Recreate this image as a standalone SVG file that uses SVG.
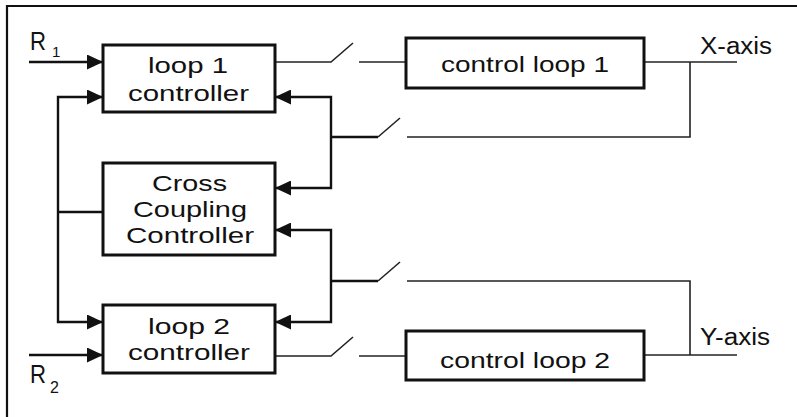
<svg xmlns="http://www.w3.org/2000/svg" width="797" height="417" viewBox="0 0 797 417">
<defs>
<marker id="ah" markerUnits="userSpaceOnUse" markerWidth="17" markerHeight="15" refX="16" refY="7.5" orient="auto">
<path d="M0,0 L16,7.5 L0,15 Z" fill="#111"/>
</marker>
<style>
.box{fill:#fff;stroke:#111;stroke-width:3}
.t{font-family:"Liberation Sans",Arial,sans-serif;font-size:22px;fill:#111}
.s{font-family:"Liberation Sans",Arial,sans-serif;fill:#111}
.c{fill:none;stroke:#111;stroke-width:2.4}
.cf{fill:none;stroke:#111;stroke-width:2.4;marker-end:url(#ah)}
.th{fill:none;stroke:#222;stroke-width:1.6}
.frame{fill:none;stroke:#111;stroke-width:2.2}
</style>
</defs>
<rect width="797" height="417" fill="#fff"/>
<path class="frame" d="M7,417 V6 H797"/>

<g id="connectors">
<path class="cf" d="M29,62 H103"/>
<path class="cf" d="M29,355 H103"/>
<path class="c" d="M103,212 H58"/>
<path class="cf" d="M58,212 V97 H103"/>
<path class="cf" d="M58,212 V322 H103"/>
<path class="c" d="M378,137 H331"/>
<path class="cf" d="M331,137 V97 H275"/>
<path class="cf" d="M331,137 V188 H275"/>
<path class="c" d="M378,281 H331"/>
<path class="cf" d="M331,281 V230 H275"/>
<path class="cf" d="M331,281 V322 H275"/>
<path class="th" d="M275,62 H331 L353,43"/>
<path class="th" d="M359,62 H406"/>
<path class="th" d="M378,137 L400,118"/>
<path class="th" d="M407,137 H690 V62"/>
<path class="th" d="M644,62 H737"/>
<path class="th" d="M378,281 L400,262"/>
<path class="th" d="M407,281 H690 V355"/>
<path class="th" d="M275,356 H331 L353,337"/>
<path class="th" d="M359,356 H406"/>
<path class="th" d="M644,355 H737"/>
</g>

<g id="loop1">
<rect class="box" x="103" y="45" width="172" height="67"/>
<text class="t" x="148" y="73" textLength="80" lengthAdjust="spacingAndGlyphs">loop 1</text>
<text class="t" x="128" y="101" textLength="121" lengthAdjust="spacingAndGlyphs">controller</text>
</g>

<g id="cross">
<rect class="box" x="103" y="163" width="172" height="92"/>
<text class="t" x="152" y="191" textLength="75" lengthAdjust="spacingAndGlyphs">Cross</text>
<text class="t" x="133" y="217" textLength="114" lengthAdjust="spacingAndGlyphs">Coupling</text>
<text class="t" x="126" y="243" textLength="128" lengthAdjust="spacingAndGlyphs">Controller</text>
</g>

<g id="loop2">
<rect class="box" x="103" y="305" width="172" height="68"/>
<text class="t" x="148" y="334" textLength="82" lengthAdjust="spacingAndGlyphs">loop 2</text>
<text class="t" x="128" y="360" textLength="122" lengthAdjust="spacingAndGlyphs">controller</text>
</g>

<g id="cl1">
<rect class="box" x="406" y="38" width="238" height="50"/>
<text class="t" x="441" y="72" font-size="25" textLength="168" lengthAdjust="spacingAndGlyphs">control loop 1</text>
</g>

<g id="cl2">
<rect class="box" x="406" y="331" width="238" height="49"/>
<text class="t" x="440" y="368" font-size="25" textLength="170" lengthAdjust="spacingAndGlyphs">control loop 2</text>
</g>

<g id="labels">
<text class="s" x="30" y="50" font-size="25" textLength="16" lengthAdjust="spacingAndGlyphs">R</text>
<text class="s" x="52" y="57" font-size="15">1</text>
<text class="s" x="30" y="383" font-size="25" textLength="16" lengthAdjust="spacingAndGlyphs">R</text>
<text class="s" x="50" y="393" font-size="16">2</text>
<text class="s" x="700" y="54" font-size="23" textLength="72" lengthAdjust="spacingAndGlyphs">X-axis</text>
<text class="s" x="700" y="345" font-size="23" textLength="70" lengthAdjust="spacingAndGlyphs">Y-axis</text>
</g>
</svg>
